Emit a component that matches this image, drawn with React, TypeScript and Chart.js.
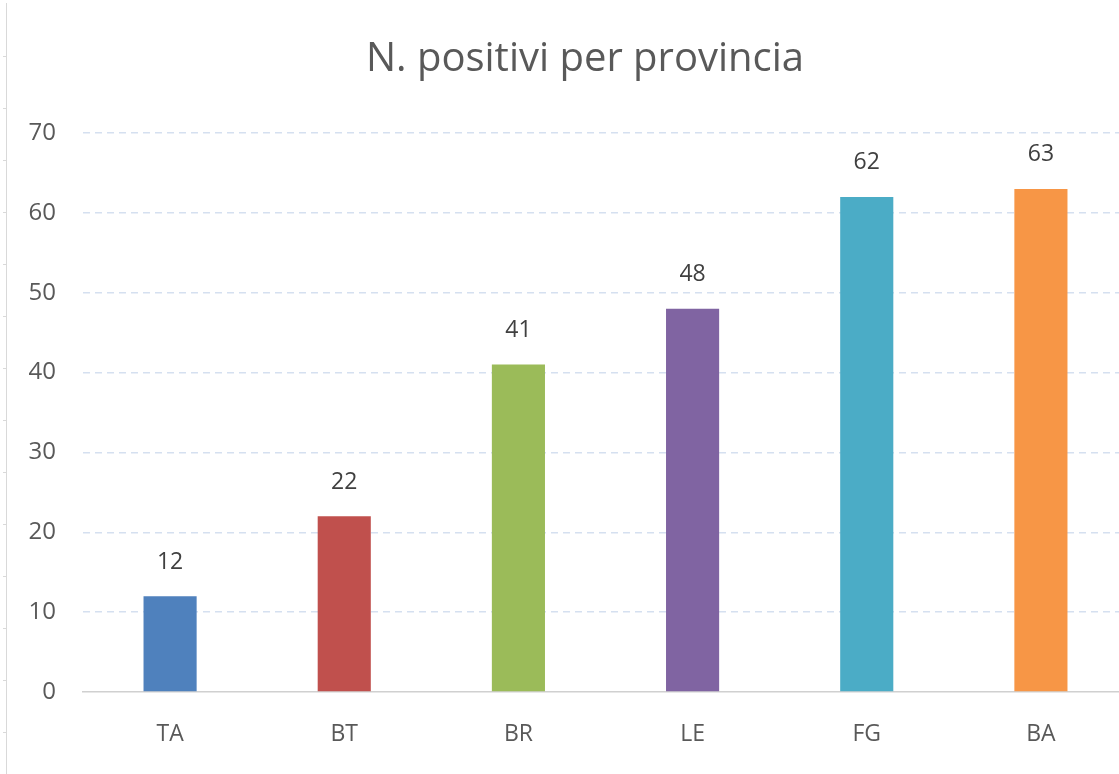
import React, { useEffect, useRef } from "react";
import { Chart, registerables } from "chart.js";

Chart.register(...registerables);

const categories = ["TA", "BT", "BR", "LE", "FG", "BA"];
const positivi = [12, 22, 41, 48, 62, 63];
const barColors = ["#4F81BD", "#C0504D", "#9BBB59", "#8064A2", "#4BACC6", "#F79646"];
const yTicks = [0, 10, 20, 30, 40, 50, 60, 70];
const titleText = "N. positivi per provincia";

const FONT = "'Open Sans', 'Noto Sans', sans-serif";

const valueLabels = {
  id: "valueLabels",
  afterDatasetsDraw(chart: any) {
    const ctx = chart.ctx;
    const meta = chart.getDatasetMeta(0);
    ctx.save();
    ctx.font = `23px ${FONT}`;
    ctx.fillStyle = "#404040";
    ctx.textAlign = "center";
    ctx.textBaseline = "middle";
    meta.data.forEach((bar: any, i: number) => {
      ctx.fillText(String(chart.data.datasets[0].data[i]), bar.x, bar.y - 34);
    });
    ctx.restore();
  },
};

const chartTitle = {
  id: "chartTitle",
  afterDraw(chart: any) {
    const ctx = chart.ctx;
    ctx.save();
    ctx.font = `40px ${FONT}`;
    ctx.fillStyle = "#595959";
    ctx.textAlign = "center";
    ctx.textBaseline = "middle";
    ctx.fillText(titleText, 585, 60);
    ctx.restore();
  },
};

export default function App() {
  const ref = useRef<HTMLCanvasElement | null>(null);
  useEffect(() => {
    if (!ref.current) return;
    const chart = new Chart(ref.current, {
      type: "bar",
      data: {
        labels: categories,
        datasets: [
          {
            data: positivi,
            backgroundColor: barColors,
            borderWidth: 0,
            barPercentage: 0.305,
            categoryPercentage: 1,
          },
        ],
      },
      options: {
        animation: false,
        responsive: false,
        maintainAspectRatio: false,
        layout: { padding: { top: 133, left: 0, right: 0, bottom: 0 } },
        plugins: {
          legend: { display: false },
          tooltip: { enabled: false },
          title: { display: false },
        },
        scales: {
          x: {
            grid: { display: false, drawTicks: false },
            border: { display: true, color: "#d0d0d0", width: 1.5 },
            ticks: { color: "#595959", font: { family: FONT, size: 23 }, padding: 29 },
            afterFit(scale: any) {
              scale.height = 82;
            },
          },
          y: {
            min: 0,
            max: 70,
            afterBuildTicks(scale: any) {
              scale.ticks = yTicks.map((v) => ({ value: v }));
            },
            grid: {
              color: (c: any) => (c.tick && c.tick.value === 0 ? "rgba(0,0,0,0)" : "#d5e0f0"),
              lineWidth: 1.5,
              drawTicks: false,
            },
            border: { display: false, dash: [7, 5] },
            ticks: { color: "#595959", font: { family: FONT, size: 24 }, padding: 27 },
            afterFit(scale: any) {
              scale.width = 83;
            },
          },
        },
      },
      plugins: [valueLabels, chartTitle],
    });
    return () => chart.destroy();
  }, []);

  return (
    <div style={{ position: "fixed", left: 0, top: 0, width: 1119, height: 774, overflow: "hidden", background: "#fff" }}>
      <div
        style={{
          position: "absolute",
          left: 6,
          top: 3,
          width: 1,
          height: 771,
          background: "#d9d9d9",
        }}
      />
      <div
        style={{
          position: "absolute",
          left: 3,
          top: 5,
          width: 3,
          height: 769,
          backgroundImage: "repeating-linear-gradient(to bottom, transparent 0px, transparent 51px, #d9d9d9 51px, #d9d9d9 52px)",
        }}
      />
      <canvas ref={ref} width={1128} height={774} style={{ position: "absolute", left: 0, top: 0 }} />
    </div>
  );
}
